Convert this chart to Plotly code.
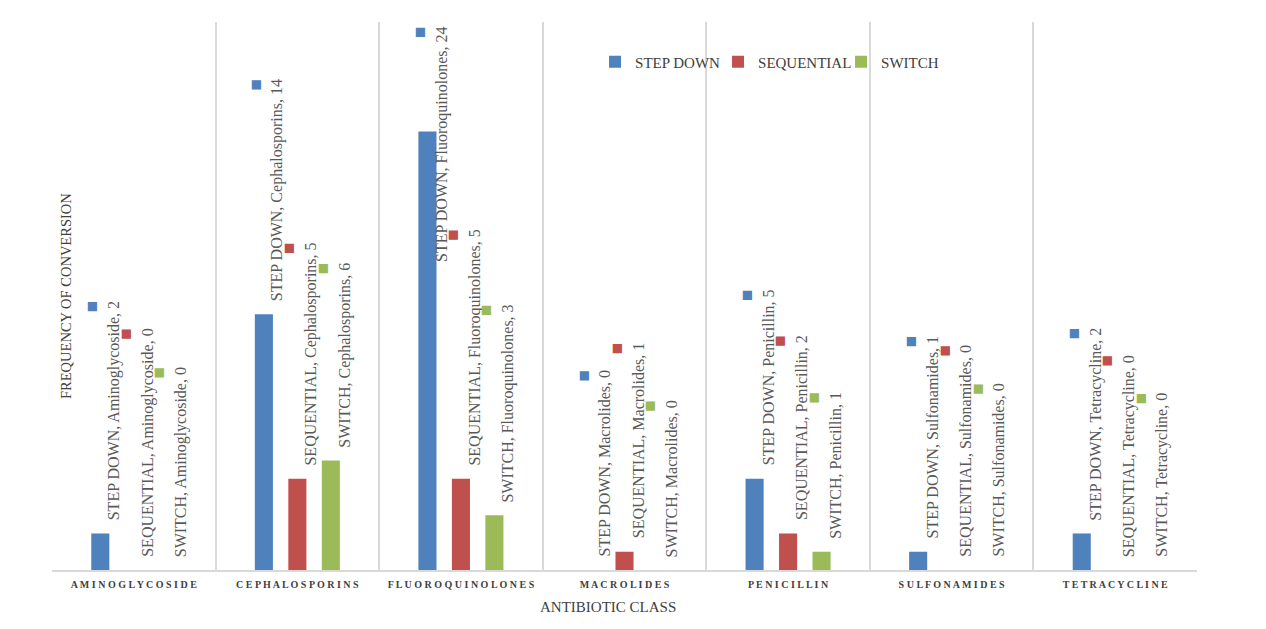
import plotly.graph_objects as go

# data
classes = ["Aminoglycoside", "Cephalosporins", "Fluoroquinolones", "Macrolides",
           "Penicillin", "Sulfonamides", "Tetracycline"]
tick_labels = ["AMINOGLYCOSIDE", "CEPHALOSPORINS", "FLUOROQUINOLONES", "MACROLIDES",
               "PENICILLIN", "SULFONAMIDES", "TETRACYCLINE"]
series = ["STEP DOWN", "SEQUENTIAL", "SWITCH"]
step_down = [2, 14, 24, 0, 5, 1, 2]
sequential = [0, 5, 5, 1, 2, 0, 0]
switch = [0, 6, 3, 0, 1, 0, 0]

colors = ["#4F81BD", "#C0504D", "#9BBB59"]
values = [step_down, sequential, switch]

SERIF = "Liberation Serif"
YMAX = 30
BARGAP = 0.386
PX_PER_UNIT = 548 / YMAX

fig = go.Figure()
for name, vals, col in zip(series, values, colors):
    fig.add_trace(go.Bar(x=classes, y=vals, name=name, marker_color=col,
                         marker_line_width=0))

# data labels with legend key (excel style)
slot = (1 - BARGAP) / 3
annotations = []
for j, (name, vals, col) in enumerate(zip(series, values, colors)):
    for i, (cls, v) in enumerate(zip(classes, vals)):
        label = f"{name}, {cls}, {v}"
        txt = f'<span style="color:{col};font-size:19px">■</span><br>{label}'
        est_len = len(label) * 8.1 / PX_PER_UNIT
        ann = dict(x=i + (j - 1) * slot, text=txt, textangle=-90, showarrow=False,
                   align="right", xanchor="center", xshift=2,
                   font=dict(family=SERIF, size=16, color="#595959"))
        if v + est_len + 1 > YMAX:
            ann.update(xref="x", yref="paper", y=1, yanchor="top", yshift=-3)
        else:
            ann.update(xref="x", yref="y", y=v, yanchor="bottom", yshift=11)
        annotations.append(ann)

annotations.append(dict(text="FREQUENCY OF CONVERSION", textangle=-90, showarrow=False,
                        xref="paper", yref="paper", x=0.0122, y=0.5,
                        xanchor="center", yanchor="middle",
                        font=dict(family=SERIF, size=14.5, color="#404040")))
annotations.append(dict(text="ANTIBIOTIC CLASS", showarrow=False,
                        xref="paper", yref="paper", x=0.486, y=-0.068,
                        xanchor="center", yanchor="middle",
                        font=dict(family=SERIF, size=15, color="#404040")))

# page body has an 8px margin, so the figure is a bit smaller than the window
fig.update_layout(
    barmode="group", bargap=BARGAP, bargroupgap=0.46,
    width=1250, height=613,
    margin=dict(l=44, r=61, t=14, b=51),
    plot_bgcolor="white", paper_bgcolor="white",
    annotations=annotations,
    legend=dict(orientation="h", x=0.6354, xanchor="center", y=0.927, yanchor="middle",
                font=dict(family=SERIF, size=15, color="#404040"),
                itemwidth=30, entrywidth=78, entrywidthmode="pixels",
                bgcolor="rgba(0,0,0,0)"),
    xaxis=dict(tickvals=classes, ticktext=[" ".join(t) for t in tick_labels],
               tickson="boundaries", ticks="", showgrid=True, gridcolor="#D9D9D9",
               gridwidth=1.5, showline=True, linecolor="#D9D9D9", linewidth=2,
               ticklabelstandoff=4,
               tickfont=dict(family=SERIF, size=10, color="#404040", weight="bold")),
    yaxis=dict(range=[0, YMAX], showgrid=False, showticklabels=False,
               zeroline=False, showline=False),
)

fig.write_html("out.html")
